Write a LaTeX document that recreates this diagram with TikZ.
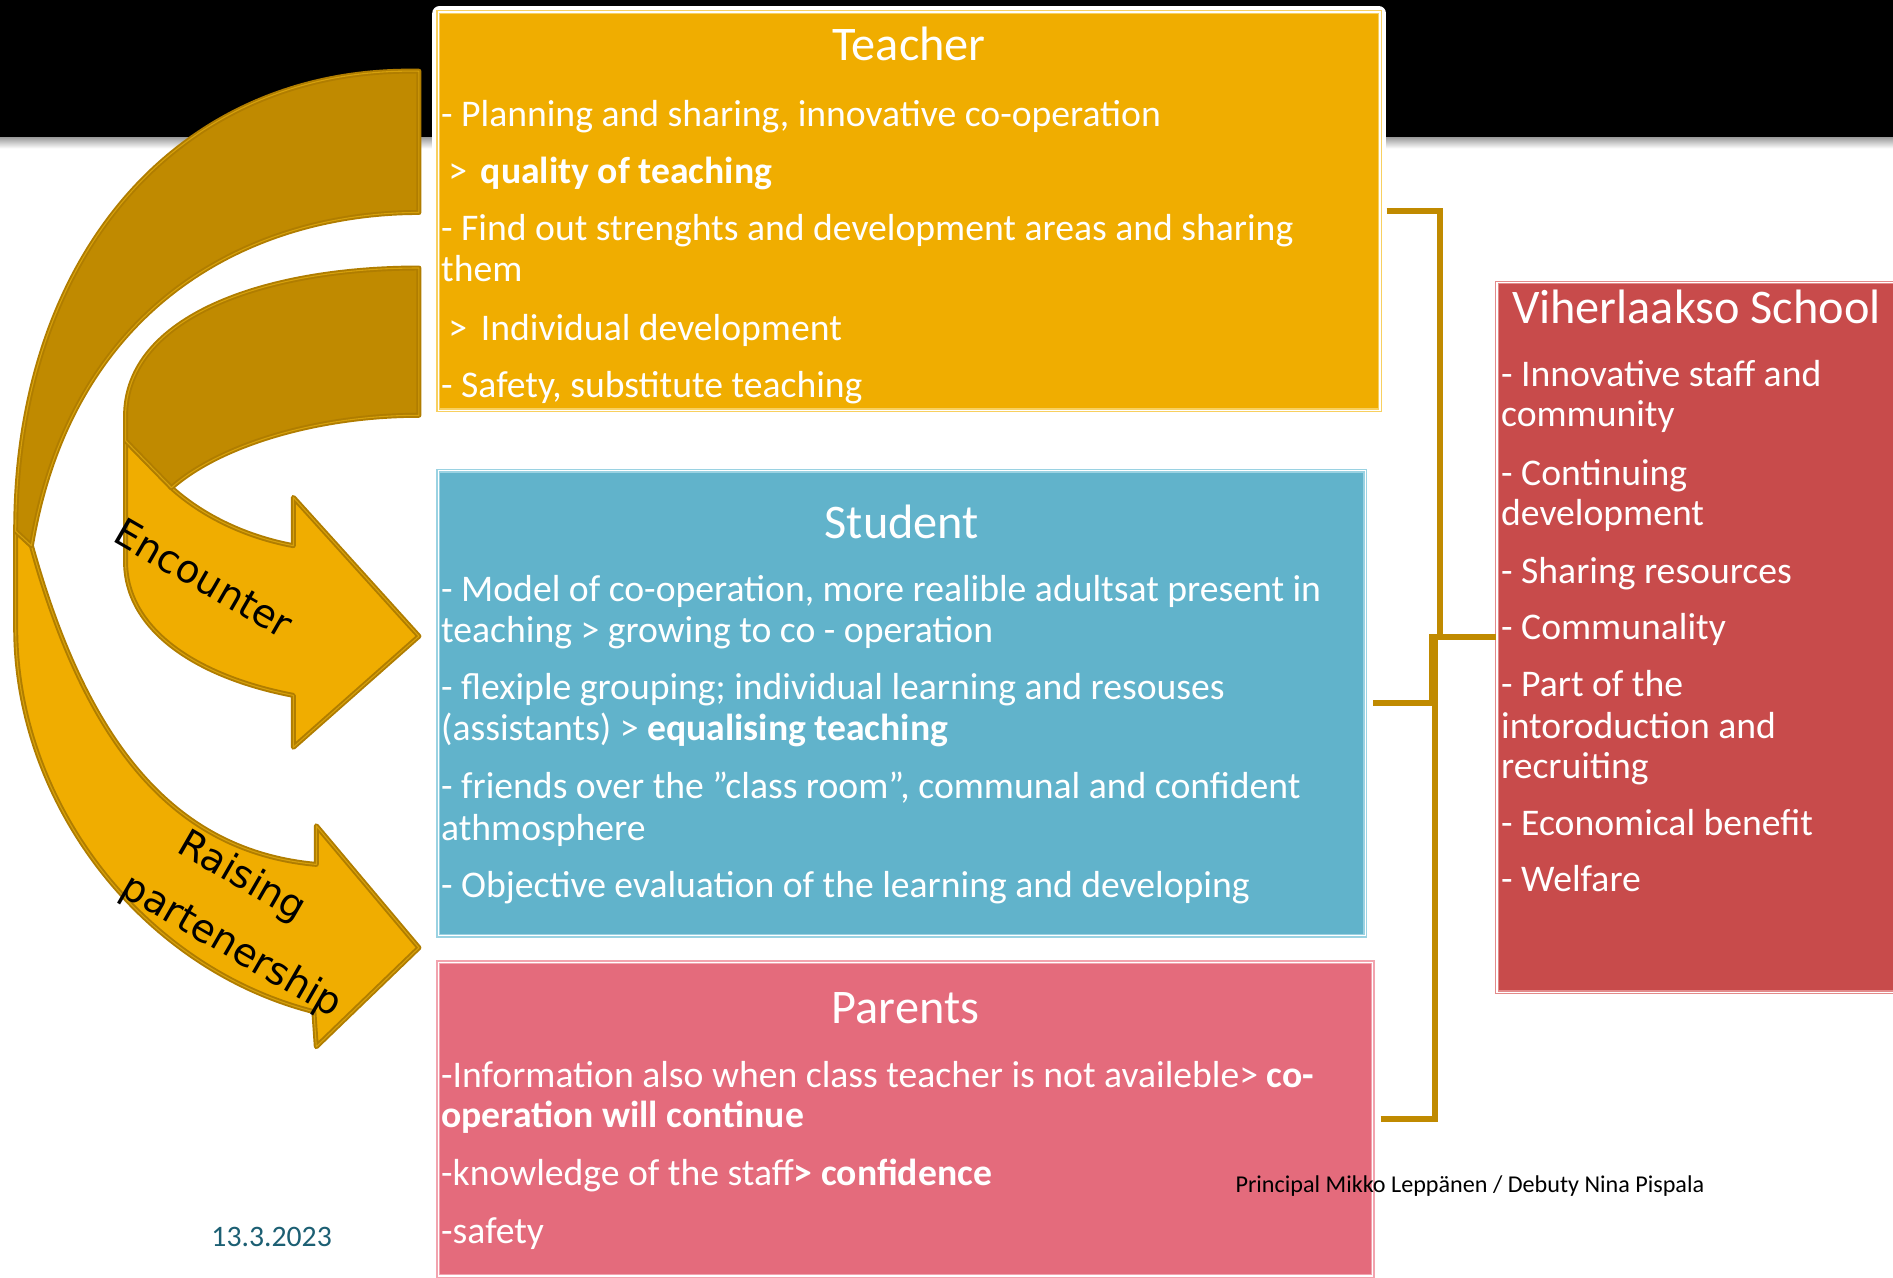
\documentclass[tikz,border=0pt]{standalone}
\usepackage{fontspec}
\setmainfont{Carlito}
\newfontfamily\arrowfont{DejaVu Sans}
\usetikzlibrary{calc}
\definecolor{tfill}{HTML}{F0AD00}
\definecolor{tline}{HTML}{F8D060}
\definecolor{sfill}{HTML}{61B3CB}
\definecolor{sline}{HTML}{9AD2E2}
\definecolor{pfill}{HTML}{E46B7C}
\definecolor{pline}{HTML}{F2A3AE}
\definecolor{vfill}{HTML}{C84B4B}
\definecolor{vline}{HTML}{E38A8A}
\definecolor{gold}{HTML}{C08A00}
\definecolor{golddark}{HTML}{B07D00}
\definecolor{goldlight}{HTML}{D6A00C}
\definecolor{datecol}{HTML}{1C5F73}
\begin{document}
\begin{tikzpicture}[x=0.5pt,y=-0.5pt,
  boxstyle/.style={rectangle, inner sep=0pt, line width=0.55pt, double=white, double distance=0.55pt},
  ttl/.style={text=white, font=\fontsize{20}{24}\selectfont, anchor=base, inner sep=0pt},
  bdy/.style={text=white, font=\fontsize{15.6}{17}\selectfont, anchor=base west, inner sep=0pt},
  conn/.style={draw=gold, line width=2.5pt},
  arrfront/.style={fill=tfill, draw=golddark, line width=0.8pt, double=goldlight, double distance=0.45pt, line join=round},
  arrback/.style={fill=gold, draw=golddark, line width=0.8pt, double=goldlight, double distance=0.45pt, line join=round},
  alabel/.style={font=\arrowfont\fontsize{16}{19}\selectfont, text=black, inner sep=0pt, rotate=-30}
]
\useasboundingbox (0,0) rectangle (1568,1058);
\fill[white] (0,0) rectangle (1568,1058);
% top band
\fill[black] (0,0) rectangle (1568,114);
\shade[top color=gray!75, bottom color=white] (0,114) rectangle (1568,123);
% white frame behind teacher box
\fill[white, rounded corners=3pt] (358,5) rectangle (1148,345);

% boxes
\node[boxstyle, fill=tfill, draw=tline, minimum width=390pt, minimum height=165pt] (teacher) at (753,175) {};
\node[boxstyle, fill=sfill, draw=sline, minimum width=384pt, minimum height=192.5pt] (student) at (747,582.5) {};
\node[boxstyle, fill=pfill, draw=pline, minimum width=387pt, minimum height=130pt] (parents) at (750,927) {};
\node[boxstyle, fill=vfill, draw=vline, minimum width=170pt, minimum height=294pt] (viher) at (1410,528) {};

% connectors
\draw[conn, shorten <=2.5pt] (teacher.east) -- ++(49,0) |- (viher.west);
\draw[conn, shorten <=3pt] (parents.east) -- ++(51,0) |- (viher.west);
\draw[conn, shorten <=3pt] (student.east) -- ++(55,0) |- (viher.west);

% titles
\node[ttl] (tteacher) at (753,50.5) {Teacher};
\node[ttl] (tstudent) at (747,446) {Student};
\node[ttl] (tparents) at (750,848) {Parents};
\node[ttl, anchor=base west] (tviher) at (1252,268) {Viherlaakso School};

% teacher text
\foreach \yy/\lbl [count=\i] in {104.6/{- Planning and sharing, innovative co-operation},
  199.5/{- Find out strenghts and development areas and sharing},
  233/{them},
  329/{- Safety, substitute teaching}}
  \node[bdy] (ta\i) at (365,\yy) {\lbl};
\node[bdy] (tb1) at (371,152) {>\hspace{5.7pt}\textbf{quality of teaching}};
\node[bdy] (tb2) at (371,281.7) {>\hspace{5.7pt}Individual development};

% student text
\foreach \yy/\lbl [count=\i] in {498.5/{- Model of co-operation, more realible adultsat present in},
  532.4/{teaching > growing to co - operation},
  579/{- flexiple grouping; individual learning and resouses},
  613/{(assistants) > \textbf{equalising teaching}},
  661/{- friends over the ”class room”, communal and confident},
  696/{athmosphere},
  743/{- Objective evaluation of the learning and developing}}
  \node[bdy] (s\i) at (365,\yy) {\lbl};

% parents text
\foreach \yy/\lbl [count=\i] in {900.8/{-Information also when class teacher is not availeble> \textbf{co-}},
  934/{\textbf{operation will continue}},
  981.7/{-knowledge of the staff\textbf{> confidence}},
  1030/{-safety}}
  \node[bdy] (p\i) at (365,\yy) {\lbl};

% viherlaakso text
\foreach \yy/\lbl [count=\i] in {320.3/{- Innovative staff and},
  353.5/{community},
  401.8/{- Continuing},
  435/{development},
  483/{- Sharing resources},
  530/{- Communality},
  577/{- Part of the},
  611.7/{intoroduction and},
  644.8/{recruiting},
  691.8/{- Economical benefit},
  738.7/{- Welfare}}
  \node[bdy] (v\i) at (1243,\yy) {\lbl};

% footer
\node[anchor=base, inner sep=0pt, text=datecol, font=\fontsize{12.3}{14}\selectfont] (date) at (225,1032.7) {13.3.2023};
\node[anchor=base west, inner sep=0pt, text=black, font=\fontsize{10}{12}\selectfont] (principal) at (1023,988) {Principal Mikko Leppänen / Debuty Nina Pispala};

% outer curved arrow (Raising partenership)
\path[arrfront] (13,440) -- (13,520) .. controls (13,665) and (118,802) .. (260,838)
  -- (262,867) -- (347,785) -- (262,684) -- (262,716)
  .. controls (140,705) and (70,610) .. (26,452) -- cycle;
\path[arrback] (347,59) .. controls (150,55) and (13,210) .. (13,440) -- (26,452)
  .. controls (60,250) and (210,176) .. (347,176) -- cycle;
% inner curved arrow (Encounter)
\path[arrfront] (104,365) -- (104,465) .. controls (104,520) and (160,560) .. (243,576)
  -- (243,619) -- (347,527) -- (243,412) -- (243,452)
  .. controls (200,444) and (165,425) .. (142,404) -- cycle;
\path[arrback] (347,222) .. controls (220,222) and (104,262) .. (104,345) -- (104,365) -- (142,404)
  .. controls (180,370) and (260,344) .. (347,344) -- cycle;

% arrow labels
\node[alabel] (enc) at (169,479) {Encounter};
\node[alabel, align=left, font=\arrowfont\fontsize{16}{27}\selectfont] (rais) at (205,761) {\hspace*{11.4pt}Raising\\partenership};
\end{tikzpicture}
\end{document}
